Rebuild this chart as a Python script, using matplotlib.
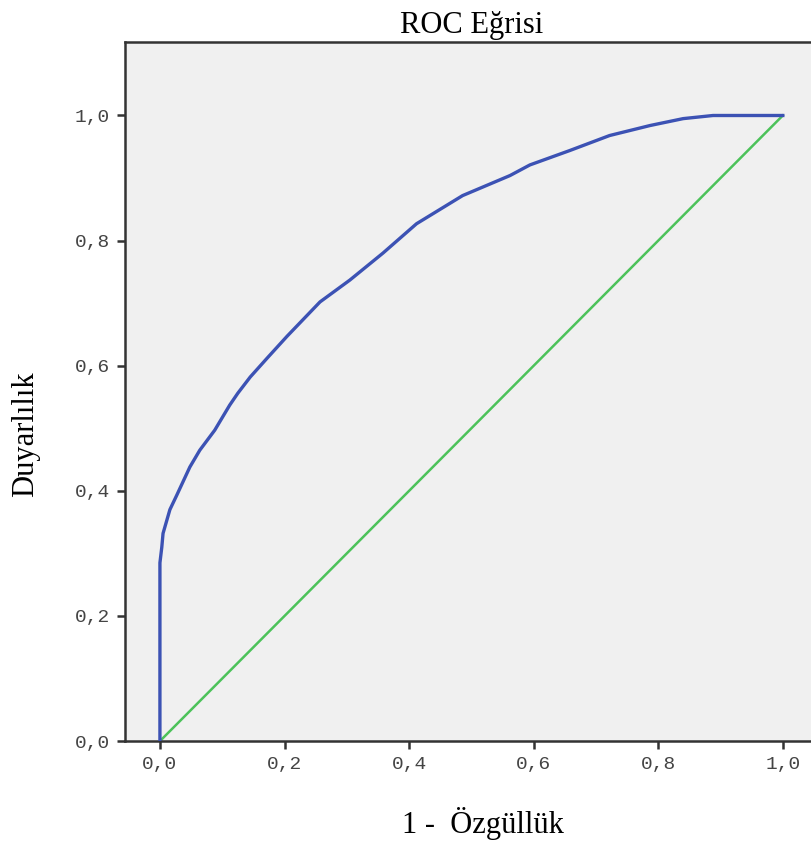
import numpy as np
import matplotlib.pyplot as plt

# ROC curve points
fpr = [0.0, 0.0, 0.003, 0.005, 0.016, 0.027, 0.048, 0.064, 0.088, 0.112, 0.125, 0.145,
       0.172, 0.204, 0.257, 0.305, 0.358, 0.412, 0.486, 0.562, 0.594, 0.658, 0.722,
       0.787, 0.840, 0.888, 1.0]
tpr = [0.0, 0.285, 0.31, 0.332, 0.37, 0.393, 0.438, 0.465, 0.497, 0.537, 0.556, 0.582,
       0.612, 0.647, 0.702, 0.737, 0.780, 0.827, 0.872, 0.904, 0.921, 0.944, 0.968,
       0.984, 0.995, 1.0, 1.0]
ref_line = [0.0, 1.0]
ticks = [0.0, 0.2, 0.4, 0.6, 0.8, 1.0]
tick_labels = ['0,0', '0,2', '0,4', '0,6', '0,8', '1,0']

fig = plt.figure(figsize=(8.12, 8.46), dpi=100)
ax = fig.add_axes([0.154, 0.124, 0.853, 0.826])
ax.set_facecolor('#f0f0f0')

ax.plot(ref_line, ref_line, color='#4cc25a', lw=1.8, zorder=2)
ax.plot(fpr, tpr, color='#3c52b4', lw=2.4, zorder=3)

ax.set_xlim(-0.056, 1.056)
ax.set_ylim(0, 1.117)
ax.set_xticks(ticks)
ax.set_yticks(ticks)
ax.set_xticklabels(tick_labels)
ax.set_yticklabels(tick_labels)
for lab in ax.get_xticklabels() + ax.get_yticklabels():
    lab.set_family('Liberation Mono')
    lab.set_fontsize(14)
    lab.set_color('#444444')
ax.tick_params(direction='out', length=6, width=1.8, color='#333333', pad=5)

for sp in ax.spines.values():
    sp.set_color('#333333')
    sp.set_linewidth(1.8)

ax.set_title('ROC Eğrisi', family='Liberation Serif', fontsize=22, pad=7)
ax.set_xlabel('1 -  Özgüllük', family='Liberation Serif', fontsize=22)
ax.set_ylabel('Duyarlılık', family='Liberation Serif', fontsize=22)
ax.xaxis.set_label_coords(0.517, -0.094)
ax.yaxis.set_label_coords(-0.123, 0.439)

fig.savefig('out.png', dpi=100, facecolor='white')
